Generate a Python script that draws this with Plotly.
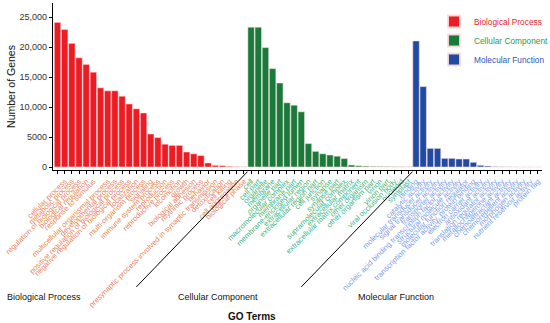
import plotly.graph_objects as go

bp_terms = ["single-organism process", "cellular process", "metabolic process",
            "regulation of biological process", "biological regulation", "response to stimulus",
            "cellular component organization or biogenesis", "multicellular organismal process",
            "developmental process", "positive regulation of biological process",
            "negative regulation of biological process", "localization", "multi-organism process",
            "signaling", "immune system process", "reproduction", "reproductive process",
            "locomotion", "growth", "biological adhesion", "rhythmic process", "behavior",
            "presynaptic process involved in synaptic transmission", "detoxification",
            "cell killing", "cell aggregation", "biological phase"]
bp_values = [24100, 22900, 20600, 18200, 17100, 15800, 13200, 12700, 12700, 11800, 10500,
             9700, 9000, 5500, 4900, 3800, 3600, 3600, 2500, 2200, 1900, 670, 280, 220,
             110, 30, 20]

cc_terms = ["cell", "cell part", "organelle", "membrane", "organelle part",
            "macromolecular complex", "membrane part", "membrane-enclosed lumen",
            "extracellular region", "extracellular region part", "cell junction", "synapse",
            "synapse part", "supramolecular complex", "extracellular matrix",
            "extracellular matrix component", "other organism", "other organism part",
            "virion", "virion part", "viral occlusion body", "nucleoid", "symplast"]
cc_values = [23300, 23300, 19900, 16400, 14000, 10700, 10300, 9200, 3900, 2600, 2200,
             2000, 1800, 1400, 330, 200, 150, 100, 90, 60, 40, 30, 20]

mf_terms = ["binding", "catalytic activity", "molecular transducer activity",
            "signal transducer activity", "transporter activity",
            "nucleic acid binding transcription factor activity",
            "structural molecule activity", "molecular function regulator",
            "transcription factor activity, protein binding", "electron carrier activity",
            "antioxidant activity", "translation regulator activity",
            "metallochaperone activity", "chemoattractant activity",
            "chemorepellent activity", "morphogen activity", "nutrient reservoir activity",
            "protein tag"]
mf_values = [21000, 13400, 3100, 3100, 1440, 1440, 1330, 1330, 780, 280, 170, 60, 30, 20,
             0, 0, 0, 0]

y_ticks = [0, 5000, 10000, 15000, 20000, 25000]
y_tick_labels = ["0", "5000", "10,000", "15,000", "20,000", "25,000"]

groups = [
    ("Biological Process", bp_terms, bp_values, "#EC1C24", "#E8262B", "#E8845C"),
    ("Cellular Component", cc_terms, cc_values, "#187B3B", "#2E9A4E", "#3DB57F"),
    ("Molecular Function", mf_terms, mf_values, "#1F4BA3", "#2F55B8", "#7B9CE5"),
]

fig = go.Figure()
tickvals, ticktext = [], []
start = 0
bounds = []
for name, terms, vals, bar_col, leg_col, lab_col in groups:
    xs = list(range(start, start + len(terms)))
    fig.add_trace(go.Bar(
        x=xs, y=vals,
        name=f"<span style='color:{leg_col}'>{name}</span>",
        marker=dict(color=bar_col, line=dict(color="rgba(255,220,220,0.9)", width=0.6)),
    ))
    tickvals += xs
    ticktext += [f"<span style='color:{lab_col}'>{t}</span>" for t in terms]
    start += len(terms)
    bounds.append(start - 0.5)

n_total = start
fig.update_layout(
    width=550, height=323,
    margin=dict(l=53, r=8, t=3, b=153, autoexpand=False),
    plot_bgcolor="white", paper_bgcolor="white",
    bargap=0.1,
    font=dict(family="Arial, Liberation Sans, sans-serif", color="#222"),
    legend=dict(x=(434 - 53) / 489, y=(170 - 7) / 167, xanchor="left", yanchor="top",
                font=dict(size=8.3), bgcolor="rgba(0,0,0,0)", itemsizing="constant",
                itemwidth=30, tracegroupgap=0),
    showlegend=True,
)
fig.update_xaxes(
    range=[-0.63, n_total - 0.43],
    tickmode="array", tickvals=tickvals, ticktext=ticktext,
    tickangle=-45, tickfont=dict(size=7.5),
    ticks="outside", ticklen=3, tickcolor="black", tickwidth=1,
    showline=True, linecolor="black", linewidth=1.2,
    showgrid=False, zeroline=False, automargin=False,
)
fig.update_yaxes(
    range=[-500, 27333],
    tickmode="array", tickvals=y_ticks, ticktext=y_tick_labels,
    tickfont=dict(size=9, color="#333"),
    ticks="outside", ticklen=3, tickcolor="black",
    showline=True, linecolor="black", linewidth=1.2,
    showgrid=False, zeroline=False, automargin=False,
    title=dict(text="Number of Genes", font=dict(size=10.5, color="#111"), standoff=1),
)

# diagonal separators between groups
for b in bounds[:2]:
    fig.add_shape(type="line", xref="x", yref="paper",
                  x0=b, y0=-0.01, x1=b - 15.5, y1=-0.70,
                  line=dict(color="black", width=1))

for label, xc in [("Biological Process", 44), ("Cellular Component", 218), ("Molecular Function", 396)]:
    fig.add_annotation(text=label, xref="paper", yref="paper",
                       x=(xc - 53) / 489, y=(170 - 297) / 167,
                       showarrow=False, font=dict(size=9, color="#111"),
                       xanchor="center", yanchor="middle")
fig.add_annotation(text="<b>GO Terms</b>", xref="paper", yref="paper",
                   x=(252 - 53) / 489, y=(170 - 316) / 167,
                   showarrow=False, font=dict(size=10, color="#111"),
                   xanchor="center", yanchor="middle")

fig.write_html("out.html", config={"displayModeBar": False},
               post_script="document.body.style.margin='0';document.body.style.padding='0';")
